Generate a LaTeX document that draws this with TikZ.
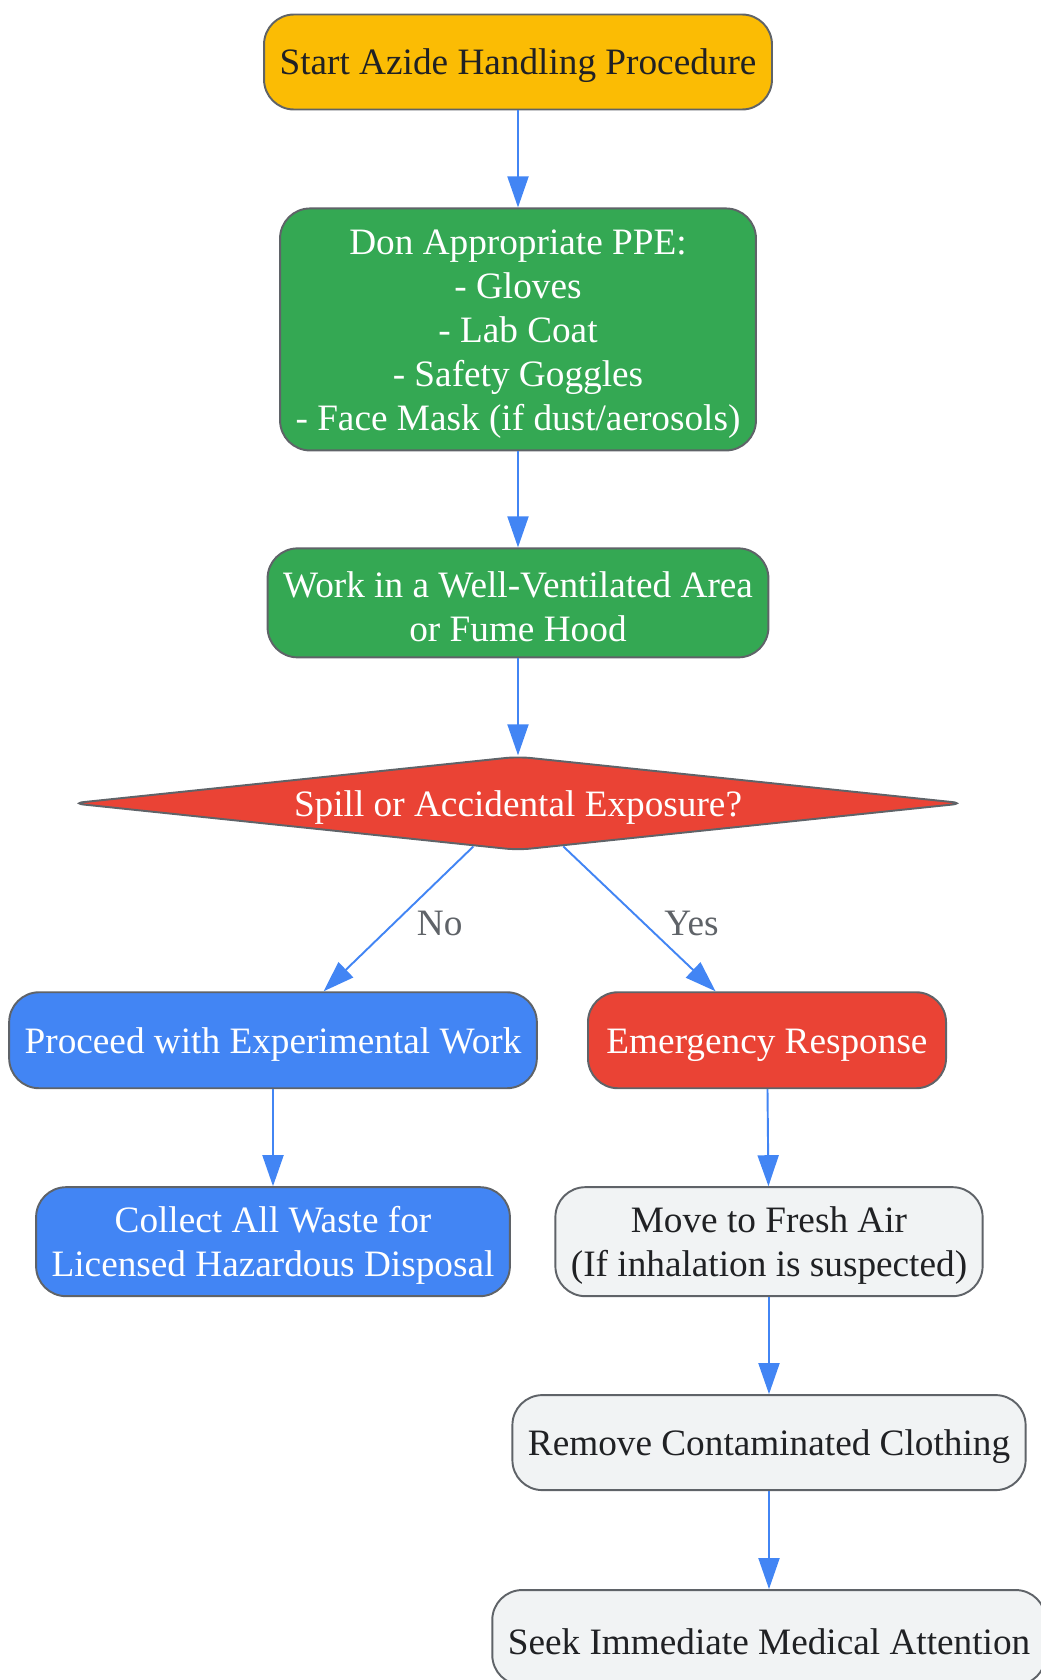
\documentclass[tikz,border=0pt]{standalone}
\usepackage{fontspec}
\setmainfont{Liberation Serif}
\usetikzlibrary{positioning,shapes.geometric,arrows.meta}

\definecolor{startfill}{HTML}{FBBC04}
\definecolor{safefill}{HTML}{34A853}
\definecolor{dangerfill}{HTML}{EA4335}
\definecolor{workfill}{HTML}{4285F4}
\definecolor{aidfill}{HTML}{F1F3F4}
\definecolor{boxline}{HTML}{5F6368}
\definecolor{darktext}{HTML}{202124}
\definecolor{flowline}{HTML}{4285F4}

\tikzset{
    box/.style={rectangle, rounded corners=0.6cm, draw=boxline, line width=1.1pt,
        align=center, inner xsep=0.31cm, inner ysep=0pt, minimum height=1.9cm,
        font=\fontsize{21.2}{25}\selectfont, lines=0},
    lines/.style={execute at begin node={\rule{0pt}{\dimexpr0.68cm+25pt*#1\relax}}},
    startbox/.style={box, fill=startfill, text=darktext},
    safebox/.style={box, fill=safefill, text=white},
    dangerbox/.style={box, fill=dangerfill, text=white},
    workbox/.style={box, fill=workfill, text=white},
    aidbox/.style={box, fill=aidfill, text=darktext},
    decision/.style={diamond, shape aspect=9.6, rounded corners=0.25cm, draw=boxline,
        line width=1.1pt, fill=dangerfill, text=white, inner sep=0pt,
        minimum width=17.86cm, minimum height=1.88cm,
        font=\fontsize{21.2}{25}\selectfont, lines=0},
    flow/.style={draw=flowline, line width=1.1pt,
        -{Triangle[length=0.62cm, width=0.42cm]}},
    answer/.style={text=boxline, inner sep=0.1cm, font=\fontsize{21.2}{25}\selectfont}
}

\begin{document}
\begin{tikzpicture}
    \useasboundingbox (0,0) rectangle (20.8,-33.6);

    \node[startbox] (start) at (10.36,-1.24) {Start Azide Handling Procedure};
    \node[safebox, below=1.94cm of start, minimum height=4.84cm, lines=4] (ppe)
        {Don Appropriate PPE:\\- Gloves\\- Lab Coat\\- Safety Goggles\\- Face Mask (if dust/aerosols)};
    \node[safebox, below=1.92cm of ppe, minimum height=2.18cm, lines=1] (hood)
        {Work in a Well-Ventilated Area\\or Fume Hood};
    \node[decision, below=1.94cm of hood] (spill) {Spill or Accidental Exposure?};

    \node[workbox, below=2.8cm of spill, xshift=-4.9cm, minimum height=1.92cm] (proceed)
        {Proceed with Experimental Work};
    \node[workbox, below=1.94cm of proceed, minimum height=2.18cm, lines=1] (waste)
        {Collect All Waste for\\Licensed Hazardous Disposal};

    \node[dangerbox, below=2.8cm of spill, xshift=4.98cm, minimum height=1.92cm,
        inner xsep=0.37cm] (emerg) {Emergency Response};
    \node[aidbox, below=1.94cm of emerg, xshift=0.04cm, minimum height=2.18cm, lines=1] (air)
        {Move to Fresh Air\\(If inhalation is suspected)};
    \node[aidbox, below=1.94cm of air] (clothes) {Remove Contaminated Clothing};
    \node[aidbox, below=1.96cm of clothes] (medic) {Seek Immediate Medical Attention};

    \draw[flow] (start) -- (ppe);
    \draw[flow] (ppe) -- (hood);
    \draw[flow] (hood) -- (spill);
    \draw[flow] (spill) -- node[answer, right=0.25cm, yshift=-0.1cm] {No} (proceed);
    \draw[flow] (spill) -- node[answer, right=0.38cm, yshift=-0.1cm] {Yes} (emerg);
    \draw[flow] (proceed) -- (waste);
    \draw[flow] (emerg) -- (air);
    \draw[flow] (air) -- (clothes);
    \draw[flow] (clothes) -- (medic);
\end{tikzpicture}
\end{document}
